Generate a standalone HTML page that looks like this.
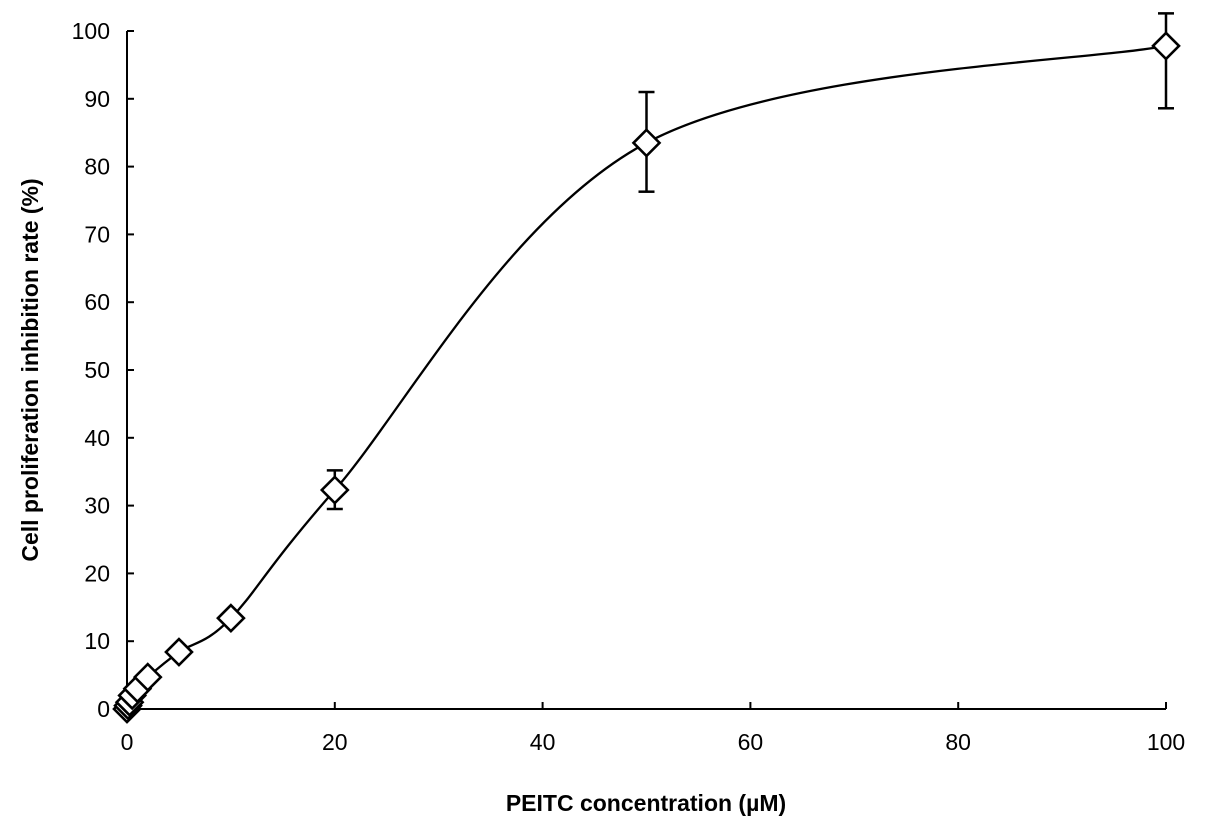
<!DOCTYPE html>
<html><head><meta charset="utf-8"><style>
body{margin:0;background:#fff;}
svg{display:block;font-family:"Liberation Sans",Arial,sans-serif;}
</style></head><body>
<svg id="chart" width="1205" height="835" viewBox="0 0 1205 835">
<g id="axes"></g>
<g id="plot"></g>
<text x="646" y="811" font-size="23" font-weight="bold" text-anchor="middle">PEITC concentration (µM)</text>
<text transform="translate(38,370) rotate(-90)" font-size="23" font-weight="bold" text-anchor="middle">Cell proliferation inhibition rate (%)</text>
</svg>
<script>
const concentrations=[0,0.1,0.25,0.5,1,2,5,10,20,50,100];
const inhibition=[0,0.5,1,2,3,4.7,8.4,13.4,32.3,83.5,97.8];
const errUpper=[0,0,0,0,0,0,0,0,35.2,91,102.6];
const errLower=[0,0,0,0,0,0,0,0,29.5,76.3,88.6];
const xTicks=[0,20,40,60,80,100];
const yTicks=[0,10,20,30,40,50,60,70,80,90,100];
const NS='http://www.w3.org/2000/svg';
const X0=127,X1=1166,Y0=709,Y1=31;
const sx=v=>X0+(v/100)*(X1-X0);
const sy=v=>Y0-(v/100)*(Y0-Y1);
function mk(tag,attrs,parent){const e=document.createElementNS(NS,tag);for(const k in attrs)e.setAttribute(k,attrs[k]);parent.appendChild(e);return e;}
const axes=document.getElementById('axes'),plot=document.getElementById('plot');
let a=mk('line',{x1:X0,y1:Y0,x2:X1,y2:Y0,stroke:'#000','stroke-width':2},axes);

a=mk('line',{x1:X0,y1:Y0,x2:X0,y2:Y1,stroke:'#000','stroke-width':2},axes);

xTicks.forEach(t=>{
 const l=mk('line',{x1:sx(t),y1:Y0,x2:sx(t),y2:Y0-7,stroke:'#000','stroke-width':2},axes);
 
 const tx=mk('text',{x:sx(t),y:Y0+41,'font-size':23,'text-anchor':'middle'},axes);tx.textContent=t;
 
});
yTicks.forEach(t=>{
 const l=mk('line',{x1:X0,y1:sy(t),x2:X0+7,y2:sy(t),stroke:'#000','stroke-width':2},axes);
 
 const tx=mk('text',{x:X0-17,y:sy(t)+8,'font-size':23,'text-anchor':'end'},axes);tx.textContent=t;
 
});
const pts=concentrations.map((c,i)=>[sx(c),sy(inhibition[i])]);
let d='M'+pts[0][0]+','+pts[0][1];
for(let i=0;i<pts.length-1;i++){
 const p0=pts[i-1]||pts[i],p1=pts[i],p2=pts[i+1],p3=pts[i+2]||p2;
 const t=1/6;
 d+=' C'+(p1[0]+(p2[0]-p0[0])*t)+','+(p1[1]+(p2[1]-p0[1])*t)+' '+(p2[0]-(p3[0]-p1[0])*t)+','+(p2[1]-(p3[1]-p1[1])*t)+' '+p2[0]+','+p2[1];
}
const curve=mk('path',{d:d,fill:'none',stroke:'#000','stroke-width':2.3},plot);

concentrations.forEach((c,i)=>{
 if(errUpper[i]>inhibition[i]){
  const g=mk('g',{},plot);
  
  const x=sx(c);
  mk('line',{x1:x,y1:sy(errUpper[i]),x2:x,y2:sy(errLower[i]),stroke:'#000','stroke-width':2.5},g);
  mk('line',{x1:x-8,y1:sy(errUpper[i]),x2:x+8,y2:sy(errUpper[i]),stroke:'#000','stroke-width':2.5},g);
  mk('line',{x1:x-8,y1:sy(errLower[i]),x2:x+8,y2:sy(errLower[i]),stroke:'#000','stroke-width':2.5},g);
 }
});
concentrations.forEach((c,i)=>{
 const x=sx(c),y=sy(inhibition[i]),r=13;
 const p=mk('polygon',{points:`${x},${y-r} ${x+r},${y} ${x},${y+r} ${x-r},${y}`,fill:'#fff',stroke:'#000','stroke-width':2.6},plot);
 
});
</script>
</body></html>
